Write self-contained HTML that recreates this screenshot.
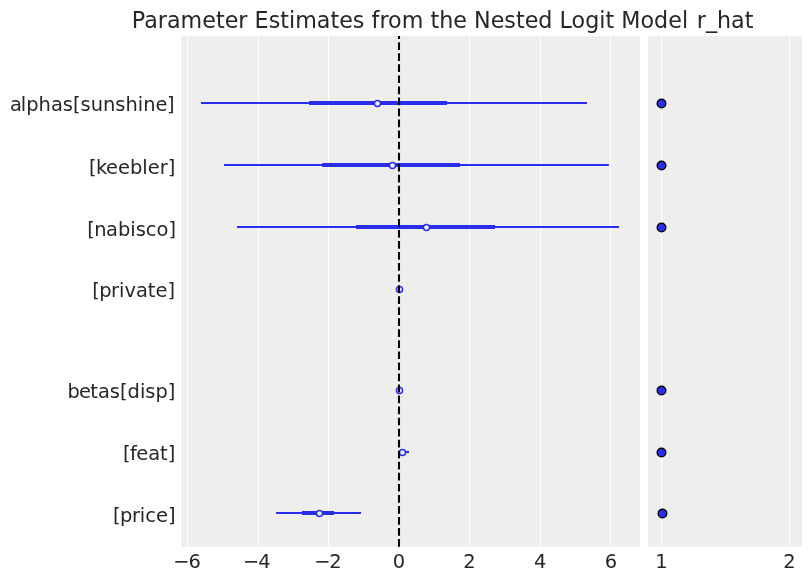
<!DOCTYPE html>
<html lang="en">
<head>
<meta charset="utf-8">
<title>Parameter Estimates from the Nested Logit Model</title>
<style>
  html, body { margin: 0; padding: 0; background: #ffffff; }
  body { width: 811px; height: 581px; overflow: hidden; }
  svg { display: block; will-change: transform; transform: translateZ(0); }
  text { font-family: "DejaVu Sans", "Liberation Sans", sans-serif; fill: #262626; }
  .title { font-size: 22.22px; }
  .lab { font-size: 19.44px; }
  .grid { stroke: #ffffff; stroke-width: 1.1; }
  .thin { stroke: #2a2eec; stroke-width: 2.08; fill: none; }
  .thick { stroke: #2a2eec; stroke-width: 4.17; fill: none; }
  .pt { fill: #eeeeee; stroke: #2a2eec; stroke-width: 1.5; }
  .rh { fill: #2a2eec; stroke: #000000; stroke-width: 1.39; }
</style>
</head>
<body>
<svg width="811" height="581" viewBox="0 0 811 581">
  <rect x="0" y="0" width="811" height="581" fill="#ffffff"/>

  <!-- main axes -->
  <rect x="181" y="36" width="458.8" height="510.85" fill="#eeeeee"/>
  <g class="grid">
    <line x1="187.5" y1="36" x2="187.5" y2="546.8"/>
    <line x1="258.5" y1="36" x2="258.5" y2="546.8"/>
    <line x1="328.5" y1="36" x2="328.5" y2="546.8"/>
    <line x1="399.5" y1="36" x2="399.5" y2="546.8"/>
    <line x1="469.5" y1="36" x2="469.5" y2="546.8"/>
    <line x1="540.5" y1="36" x2="540.5" y2="546.8"/>
    <line x1="610.5" y1="36" x2="610.5" y2="546.8"/>
  </g>

  <!-- r_hat axes -->
  <rect x="648.1" y="36" width="153.9" height="510.85" fill="#eeeeee"/>
  <g class="grid">
    <line x1="661.5" y1="36" x2="661.5" y2="546.8"/>
    <line x1="789.5" y1="36" x2="789.5" y2="546.8"/>
  </g>

  <!-- forest intervals -->
  <g>
    <line class="thin"  x1="201"   y1="103" x2="587"   y2="103"/>
    <line class="thick" x1="309"   y1="103" x2="447"   y2="103"/>

    <line class="thin"  x1="224"   y1="165" x2="608.9" y2="165"/>
    <line class="thick" x1="322.2" y1="165" x2="460"   y2="165"/>

    <line class="thin"  x1="237"   y1="227" x2="619"   y2="227"/>
    <line class="thick" x1="356"   y1="227" x2="495"   y2="227"/>

    <line class="thin"  x1="399.5" y1="452" x2="409"   y2="452"/>
    <line class="thick" x1="401"   y1="452" x2="404.5" y2="452"/>

    <line class="thin"  x1="276.1" y1="513" x2="361"   y2="513"/>
    <line class="thick" x1="301.9" y1="513" x2="334"   y2="513"/>
  </g>

  <!-- point estimates -->
  <g class="pt">
    <circle cx="377.5" cy="103.5" r="3.05"/>
    <circle cx="392.5" cy="165.5" r="3.05"/>
    <circle cx="426.5" cy="227.5" r="3.05"/>
    <circle cx="399.5" cy="289.5" r="3.05"/>
    <circle cx="399.5" cy="390.5" r="3.05"/>
    <circle cx="402.5" cy="452.5" r="3.05"/>
    <circle cx="319.5" cy="513.5" r="3.05"/>
  </g>

  <!-- reference line at zero -->
  <line x1="399" y1="546.8" x2="399" y2="36" stroke="#000000" stroke-width="2.08" stroke-dasharray="7.71 3.33"/>

  <!-- r_hat points -->
  <g class="rh">
    <circle cx="661.5" cy="103.5" r="4.3"/>
    <circle cx="661.5" cy="165.5" r="4.3"/>
    <circle cx="661.5" cy="227.5" r="4.3"/>
    <circle cx="661.5" cy="390.5" r="4.3"/>
    <circle cx="661.5" cy="452.5" r="4.3"/>
    <circle cx="662.5" cy="513.5" r="4.3"/>
  </g>

  <!-- titles -->
  <text class="title" x="131.75" y="28" letter-spacing="0.018">Parameter Estimates from the Nested Logit Model</text>
  <text class="title" x="725.1" y="28" text-anchor="middle">r_hat</text>

  <!-- y labels -->
  <g class="lab">
    <text x="8.92" y="111" dx="1.1 -1.1 0 0 0 0 0 0 0 0 0 0 0 0 0 -0.5">alphas[sunshine]</text>
    <text x="87.86" y="174" dx="1.2 -0.6 -0.6">[keebler]</text>
    <text x="86.16" y="236" dx="1.0 -0.5 -0.5">[nabisco]</text>
    <text x="91.09" y="297" dx="1.2 -0.6 -0.6">[private]</text>
    <text x="66.02" y="398" dx="1.4 -0.7 -0.7">betas[disp]</text>
    <text x="121.78" y="460" dx="1.2 -0.6 -0.6">[feat]</text>
    <text x="111.95" y="522" dx="1.0 -0.5 -0.5">[price]</text>
  </g>

  <!-- x tick labels -->
  <g class="lab">
    <text x="173.17" y="568" dx="0 -1.05">−6</text>
    <text x="243.07" y="568" dx="0 -1.0">−4</text>
    <text x="314.17" y="568" dx="0 -1.25">−2</text>
  </g>
  <g class="lab" text-anchor="middle">
    <text x="399.0" y="568">0</text>
    <text x="469.4" y="568">2</text>
    <text x="540.2" y="568">4</text>
    <text x="611.0" y="568">6</text>
    <text x="661.5" y="568">1</text>
    <text x="789.5" y="568">2</text>
  </g>
</svg>
</body>
</html>
